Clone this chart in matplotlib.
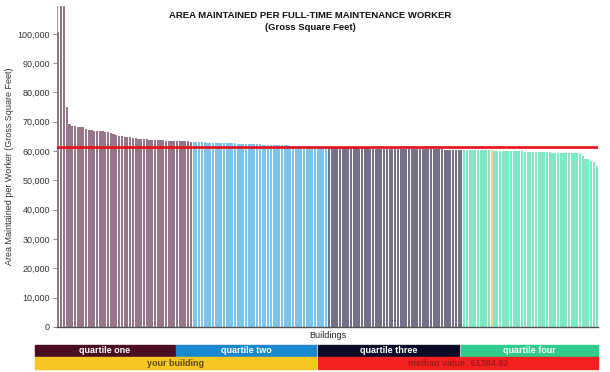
import matplotlib
matplotlib.use("Agg")
import matplotlib.pyplot as plt
from matplotlib.patches import Rectangle
import numpy as np

plt.rcParams['font.family'] = ['Liberation Sans', 'DejaVu Sans']

q1 = [100500, 115000, 115000, 75000, 69200, 68500, 68400, 68300, 68300, 68200,
      67400, 67300, 67100, 67000, 66900, 66800, 66700, 66500, 66400, 66200,
      65900, 65600, 65300, 65000, 64900, 64800, 64700, 64600, 64400, 64300,
      64100, 64000, 64000, 63900, 63900, 63800, 63800, 63700, 63700, 63600,
      63600, 63500, 63500, 63500, 63400, 63400, 63300, 63300, 63200]
q2 = [63100, 63050, 63000, 63000, 62950, 62900, 62900, 62850, 62800, 62800,
      62750, 62700, 62700, 62650, 62600, 62600, 62550, 62500, 62500, 62450,
      62400, 62400, 62350, 62300, 62300, 62250, 62200, 62200, 62150, 62100,
      62100, 62050, 62000, 62000, 61950, 61900, 61900, 61850, 61800, 61800,
      61750, 61700, 61700, 61650, 61600, 61600, 61550, 61500, 61450]
q3 = [61200, 61150, 61150, 61100, 61100, 61050, 61050, 61000, 61000, 61000,
      60950, 60950, 60900, 60900, 60900, 60850, 60850, 60850, 60800, 60800,
      60800, 60750, 60750, 60750, 60700, 60700, 60700, 60700, 60650, 60650,
      60650, 60650, 60600, 60600, 60600, 60600, 60600, 60550, 60550, 60550,
      60550, 60550, 60500, 60500, 60500, 60500, 60500, 60500, 60500]
q4 = [60500, 60450, 60450, 60400, 60400, 60350, 60350, 60300, 60300, 60250,
      60250, 60200, 60200, 60150, 60100, 60100, 60050, 60000, 60000, 59950,
      59900, 59900, 59850, 59800, 59800, 59750, 59700, 59650, 59650, 59600,
      59600, 59550, 59500, 59500, 59450, 59400, 59400, 59350, 59300, 59300,
      59200, 59200, 59100, 58300, 57200, 57200, 56500, 56400, 55000]
your_index_in_q4 = 10
median_value = 61384.62

bar_colors = ['#98768a', '#7ec4ea', '#737288', '#80e8c2']
your_bar_color = '#f4d98a'
legend_colors = ['#4a0d22', '#1a88cf', '#0b0b26', '#2fcc8c']
legend_labels = ['quartile one', 'quartile two', 'quartile three', 'quartile four']

values = q1 + q2 + q3 + q4
colors = []
for c, q in zip(bar_colors, [q1, q2, q3, q4]):
    colors += [c] * len(q)
your_idx = len(q1) + len(q2) + len(q3) + your_index_in_q4
colors[your_idx] = your_bar_color
x = np.arange(len(values))

fig = plt.figure(figsize=(6.1, 3.72), dpi=100)
ax = fig.add_axes([57/610, 45/372, 541/610, 321/372])
ax.bar(x, values, width=0.8, color=colors, edgecolor='none')
ax.axhline(median_value, color='#e8101a', lw=1.9, zorder=5)
ax.set_xlim(-0.5, len(values) - 0.5)
ax.set_ylim(0, 109500)
ax.set_yticks(np.arange(0, 100001, 10000))
ax.set_yticklabels([f"{v:,}" for v in range(0, 100001, 10000)], fontsize=6.5, color='#333333')
ax.set_xticks([])
ax.tick_params(axis='y', length=3, width=0.6, color='#777777', pad=2)
for s in ['top', 'right']:
    ax.spines[s].set_visible(False)
ax.spines['left'].set_color('#888888')
ax.spines['left'].set_linewidth(0.6)
ax.spines['bottom'].set_color('#555555')
ax.spines['bottom'].set_linewidth(1.0)
ax.set_xlabel('Buildings', fontsize=6.5, color='#222222', labelpad=3)
ax.set_ylabel('Area Maintained per Worker (Gross Square Feet)', fontsize=6.5, color='#333333')
ax.yaxis.set_label_coords((14 - 57) / 541, 0.5)

fig.text(310/610, 1 - 15/372, 'AREA MAINTAINED PER FULL-TIME MAINTENANCE WORKER',
         ha='center', va='center', fontsize=6.8, fontweight='bold', color='#111111')
fig.text(310/610, 1 - 27/372, '(Gross Square Feet)', ha='center', va='center',
         fontsize=6.8, fontweight='bold', color='#111111')

# legend boxes
row1 = [(35, 175), (176, 316), (318, 459), (461, 598)]
for (x0, x1), c, lab in zip(row1, legend_colors, legend_labels):
    fig.patches.append(Rectangle((x0/610, 16/372), (x1-x0)/610, 11/372,
                                 transform=fig.transFigure, color=c))
    fig.text((x0+x1)/2/610, 21.5/372, lab, ha='center', va='center',
             fontsize=6.5, fontweight='bold', color='white')
fig.patches.append(Rectangle((35/610, 3/372), (316-35)/610, 12/372,
                             transform=fig.transFigure, color='#f7c623'))
fig.text((35+316)/2/610, 9/372, 'your building', ha='center', va='center',
         fontsize=6.5, fontweight='bold', color='#5b4a14')
fig.patches.append(Rectangle((318/610, 3/372), (598-318)/610, 12/372,
                             transform=fig.transFigure, color='#f52020'))
fig.text((318+598)/2/610, 9/372, f'median value: {median_value}', ha='center', va='center',
         fontsize=6.5, fontweight='bold', color='#a01a1a')

fig.savefig('out.png', dpi=100)
